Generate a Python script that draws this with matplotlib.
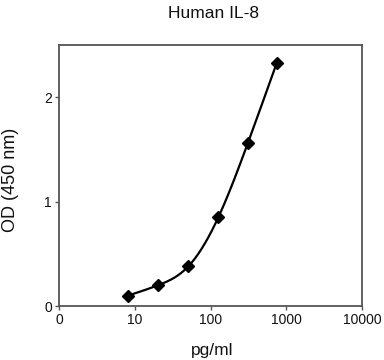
import numpy as np
import matplotlib
matplotlib.use("Agg")
import matplotlib.pyplot as plt

plt.rcParams['font.family'] = ['Liberation Sans', 'DejaVu Sans']

conc = [8.2, 20.5, 51, 127, 311, 751]
od = [0.10, 0.20, 0.38, 0.85, 1.56, 2.33]
xticks = [1, 10, 100, 1000, 10000]
xticklabels = ['0', '10', '100', '1000', '10000']
yticks = [0, 1, 2]


def natural_spline(x, y, xs):
    x = np.asarray(x, float); y = np.asarray(y, float)
    n = len(x)
    h = np.diff(x)
    A = np.zeros((n, n)); b = np.zeros(n)
    A[0, 0] = 1; A[-1, -1] = 1
    for i in range(1, n - 1):
        A[i, i - 1] = h[i - 1]
        A[i, i] = 2 * (h[i - 1] + h[i])
        A[i, i + 1] = h[i]
        b[i] = 3 * ((y[i + 1] - y[i]) / h[i] - (y[i] - y[i - 1]) / h[i - 1])
    c = np.linalg.solve(A, b)
    out = np.empty_like(xs)
    for k, xv in enumerate(xs):
        i = min(max(np.searchsorted(x, xv) - 1, 0), n - 2)
        d = xv - x[i]
        bi = (y[i + 1] - y[i]) / h[i] - h[i] * (2 * c[i] + c[i + 1]) / 3
        di = (c[i + 1] - c[i]) / (3 * h[i])
        out[k] = y[i] + bi * d + c[i] * d ** 2 + di * d ** 3
    return out


fig = plt.figure(figsize=(3.84, 3.6), dpi=100)
ax = fig.add_axes([59 / 384, 1 - 306 / 360, 303 / 384, 261 / 360])

lx = np.log10(conc)
xs = np.linspace(lx[0], lx[-1], 300)
ys = natural_spline(lx, od, xs)
ax.plot(10 ** xs, ys, color='black', lw=1.6, zorder=2)
ax.plot(conc, od, linestyle='none', marker='D', color='black', markersize=6, zorder=3)

ax.set_xscale('log')
ax.set_xlim(1, 10000)
ax.set_ylim(0, 2.5)
ax.set_xticks(xticks)
ax.set_xticklabels(xticklabels)
ax.xaxis.set_minor_locator(matplotlib.ticker.NullLocator())
ax.set_yticks(yticks)
ax.tick_params(axis='both', direction='out', length=3, width=1, color='#555555',
               labelsize=10, pad=2, labelcolor='#111111')
for s in ax.spines.values():
    s.set_color('#555555')
    s.set_linewidth(1.3)

fig.text(212 / 384, 1 - 350 / 360, 'pg/ml', ha='center', va='center', fontsize=12.5, color='#111111')
fig.text(11 / 384, 1 - 180 / 360, 'OD (450 nm)', ha='center', va='center', rotation=90,
         fontsize=13, color='#111111')
fig.text(213 / 384, 1 - 14 / 360, 'Human IL-8', ha='center', va='center', fontsize=12.5, color='#111111')

fig.savefig('out.png', dpi=100)
